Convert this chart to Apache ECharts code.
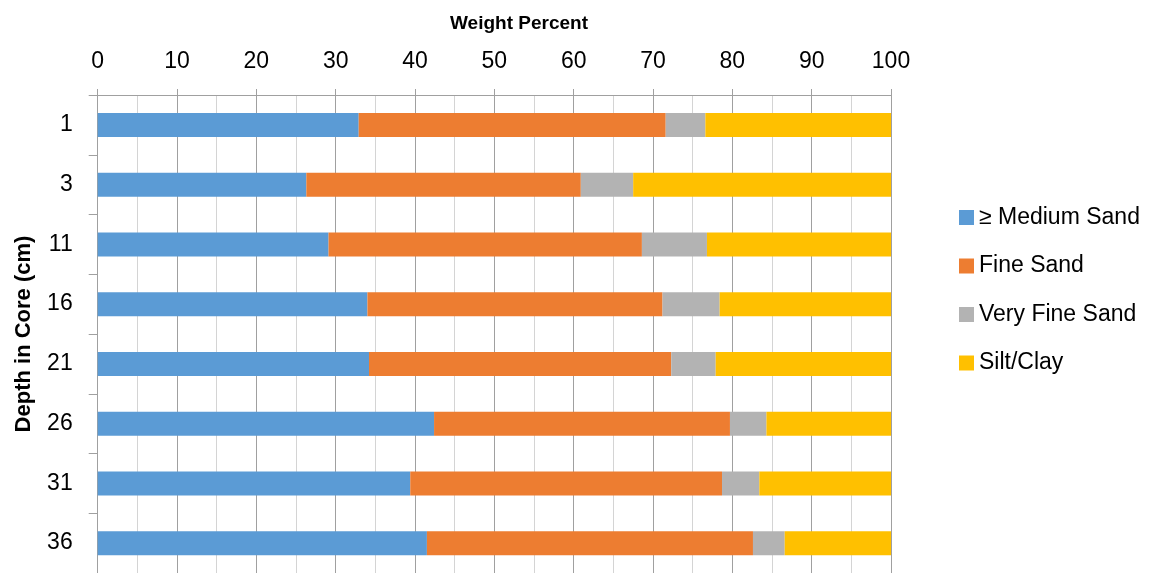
<!DOCTYPE html>
<html>
<head>
<meta charset="utf-8">
<script src="https://cdn.jsdelivr.net/npm/echarts@6/dist/echarts.min.js"></script>
<style>
html,body{margin:0;padding:0;background:#fff;}
#chart{width:1155px;height:573px;}
</style>
</head>
<body>
<div id="chart"></div>
<script>
const depths = ['1', '3', '11', '16', '21', '26', '31', '36'];
const mediumSand = [32.9, 26.3, 29.1, 34.0, 34.2, 42.4, 39.4, 41.5];
const fineSand = [38.7, 34.6, 39.5, 37.2, 38.1, 37.3, 39.3, 41.1];
const veryFineSand = [5.0, 6.6, 8.2, 7.2, 5.6, 4.6, 4.7, 4.0];
const siltClay = [23.4, 32.5, 23.2, 21.6, 22.1, 15.7, 16.6, 13.4];
const seriesNames = ['\u2265 Medium Sand', 'Fine Sand', 'Very Fine Sand', 'Silt/Clay'];
const xTicks = [0, 10, 20, 30, 40, 50, 60, 70, 80, 90, 100];

const FONT = "'Liberation Sans', Arial, sans-serif";
const chart = echarts.init(document.getElementById('chart'));
const colors = ['#5B9BD5', '#ED7D31', '#B3B3B3', '#FFC000'];
const dataSets = [mediumSand, fineSand, veryFineSand, siltClay];

chart.setOption({
  animation: false,
  color: colors,
  textStyle: {fontFamily: FONT, color: '#000'},
  title: {
    text: 'Weight Percent',
    left: 514,
    top: 9,
    textAlign: 'center',
    textStyle: {fontFamily: FONT, fontSize: 19, fontWeight: 'bold', color: '#000'}
  },
  legend: {
    orient: 'vertical',
    left: 954,
    top: 201,
    itemWidth: 15,
    itemHeight: 15,
    itemGap: 25.5,
    itemTextGap: 5,
    icon: 'rect',
    data: seriesNames,
    textStyle: {fontFamily: FONT, fontSize: 23, lineHeight: 23, color: '#000'}
  },
  grid: {left: 97.7, width: 793.3, top: 95, height: 482.4, containLabel: false},
  xAxis: {
    type: 'value',
    position: 'top',
    min: xTicks[0],
    max: xTicks[xTicks.length - 1],
    interval: 10,
    axisLine: {show: true, lineStyle: {color: '#A0A0A0', width: 1}},
    axisTick: {show: true, length: 6, lineStyle: {color: '#A0A0A0'}},
    axisLabel: {fontFamily: FONT, fontSize: 23, color: '#000', margin: 22},
    splitLine: {show: true, lineStyle: {color: '#A0A0A0', width: 1}},
    minorTick: {show: false, splitNumber: 2},
    minorSplitLine: {show: true, lineStyle: {color: '#D4D4D4', width: 1}}
  },
  yAxis: {
    type: 'category',
    data: depths,
    inverse: true,
    name: 'Depth in Core (cm)',
    nameLocation: 'middle',
    nameGap: 63,
    nameRotate: 90,
    nameTextStyle: {fontFamily: FONT, fontSize: 22, fontWeight: 'bold', color: '#000'},
    axisLine: {show: true, lineStyle: {color: '#A0A0A0', width: 1}},
    axisTick: {show: true, length: 9, lineStyle: {color: '#A0A0A0'}},
    axisLabel: {fontFamily: FONT, fontSize: 23, color: '#000', margin: 25}
  },
  series: seriesNames.map((n, i) => ({
    name: n,
    type: 'bar',
    stack: 'total',
    barWidth: 24,
    data: dataSets[i]
  }))
});
</script>
</body>
</html>
